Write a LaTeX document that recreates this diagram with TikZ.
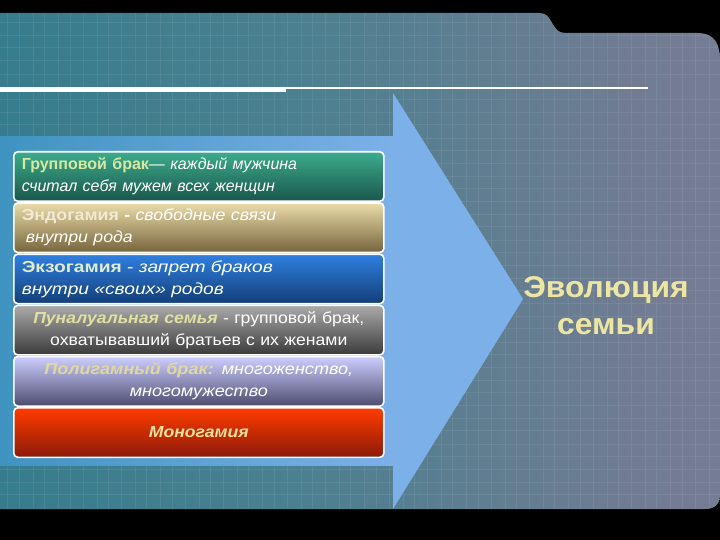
\documentclass[tikz,border=0pt]{standalone}
\usepackage{fontspec}
\setmainfont{Liberation Sans}
\definecolor{bgA}{HTML}{1F7888}
\definecolor{bgB}{HTML}{4A8090}
\definecolor{bgC}{HTML}{727C92}
\definecolor{bgD}{HTML}{80819A}
\definecolor{arrowblue}{HTML}{7CB0E8}
\definecolor{shaftleft}{HTML}{3F93C0}
\definecolor{headA}{HTML}{D8E8A0}
\definecolor{headB}{HTML}{F2EAD2}
\definecolor{headC}{HTML}{E0ECD0}
\definecolor{headD}{HTML}{E0E0A0}
\definecolor{headE}{HTML}{E0D8A0}
\definecolor{headF}{HTML}{F8E0A0}
\definecolor{titlec}{HTML}{ECE6A2}
\pgfdeclarehorizontalshading{panelsh}{100bp}{color(0bp)=(bgA); color(45bp)=(bgB); color(70bp)=(bgC); color(100bp)=(bgD)}
\newcommand{\boxfont}[1]{\fontsize{16}{22}\selectfont\addfontfeatures{FakeStretch=#1}}
\begin{document}
\begin{tikzpicture}[x=1pt,y=-1pt,
  boxstyle/.style={draw=white, line width=1.6pt, rounded corners=4pt,
    minimum width=370pt, minimum height=49.5pt, inner xsep=8pt, inner ysep=0pt,
    text width=354pt, anchor=north west, text=white},
  titlestyle/.style={text=titlec, align=center, font=\fontsize{30}{37}\selectfont\addfontfeatures{FakeStretch=1.06}\bfseries},
  gridline/.style={white, opacity=0.07, line width=0.6pt}]
\useasboundingbox (0,0) rectangle (720,540);
\fill[black] (0,0) rectangle (720,540);
% panel
\path[shading=panelsh] (0,13) -- (540,13) .. controls (553,13) and (551,33) .. (565,33)
  -- (697,33) .. controls (716,33) and (720,45) .. (720,62) -- (720,494)
  .. controls (720,504) and (715,509) .. (705,509) -- (0,509) -- cycle;
\begin{scope}
\clip (0,13) -- (540,13) .. controls (553,13) and (551,33) .. (565,33)
  -- (697,33) .. controls (716,33) and (720,45) .. (720,62) -- (720,494)
  .. controls (720,504) and (715,509) .. (705,509) -- (0,509) -- cycle;
\foreach \gx in {7,19,33,44,58,70,83,97,108,121,135,146,160,172,185,199,210,223,237,248,262,274,287,301,312,325,339,350,364,376,389,403,414,427,441,452,466,478,491,505,516,529,543,554,568,580,593,607,618,631,645,656,670,682,695,709}
  \draw[gridline] (\gx,13) -- (\gx,509);
\foreach \gy in {22,35,47,60,74,99,112,124,138,150,163,176,188,201,214,226,240,252,265,278,290,303,316,328,342,354,367,380,392,405,418,430,444,456,469,482,494}
  \draw[gridline] (0,\gy) -- (720,\gy);
\end{scope}
% white rule
\fill[white] (0,87) rectangle (286,92);
\fill[white] (286,87) rectangle (648,89);
% arrow
\fill[arrowblue] (0,137) -- (393,137) -- (393,93) -- (523,299) -- (393,509) -- (393,465) -- (0,465) -- cycle;
\shade[left color=shaftleft, right color=arrowblue] (0,137) rectangle (393,465);
% boxes
\node[boxstyle, top color={rgb,255:red,60;green,172;blue,140}, bottom color={rgb,255:red,26;green,86;blue,74}, align=left, font=\boxfont{1.0}] (box1) at (13,151)
  {\textcolor{headA}{\textbf{Групповой брак}}— \textit{каждый мужчина}\\\textit{считал себя мужем всех женщин}};
\node[boxstyle, top color={rgb,255:red,234;green,220;blue,170}, bottom color={rgb,255:red,118;green,100;blue,60}, align=left, font=\boxfont{1.11}] (box2) at (13,202.2)
  {\textcolor{headB}{\textbf{Эндогамия}} \textbf{-} \textit{свободные связи}\\\hspace*{4pt}\textit{внутри рода}};
\node[boxstyle, top color={rgb,255:red,48;green,128;blue,224}, bottom color={rgb,255:red,18;green,62;blue,120}, align=left, font=\boxfont{1.2}] (box3) at (13,253.4)
  {\textcolor{headC}{\textbf{Экзогамия}} - \textit{запрет браков}\\\textit{внутри «своих» родов}};
\node[boxstyle, top color={rgb,255:red,170;green,170;blue,170}, bottom color={rgb,255:red,58;green,58;blue,58}, align=center, font=\boxfont{1.1}] (box4) at (13,304.6)
  {\textcolor{headD}{\textbf{\textit{Пуналуальная семья}}} - групповой брак,\\охватывавший братьев с их женами};
\node[boxstyle, top color={rgb,255:red,206;green,206;blue,255}, bottom color={rgb,255:red,76;green,76;blue,112}, align=center, font=\boxfont{1.13}] (box5) at (13,355.8)
  {\textcolor{headE}{\textbf{\textit{Полигамный брак:}}} \textit{многоженство,}\\\textit{многомужество}};
\node[boxstyle, top color={rgb,255:red,255;green,60;blue,0}, bottom color={rgb,255:red,140;green,26;blue,8}, align=center, font=\boxfont{1.1}] (box6) at (13,407)
  {\textcolor{headF}{\textbf{\textit{Моногамия}}}};
% title
\node[titlestyle] (title) at (606,306) {Эволюция\\семьи};
\end{tikzpicture}
\end{document}
